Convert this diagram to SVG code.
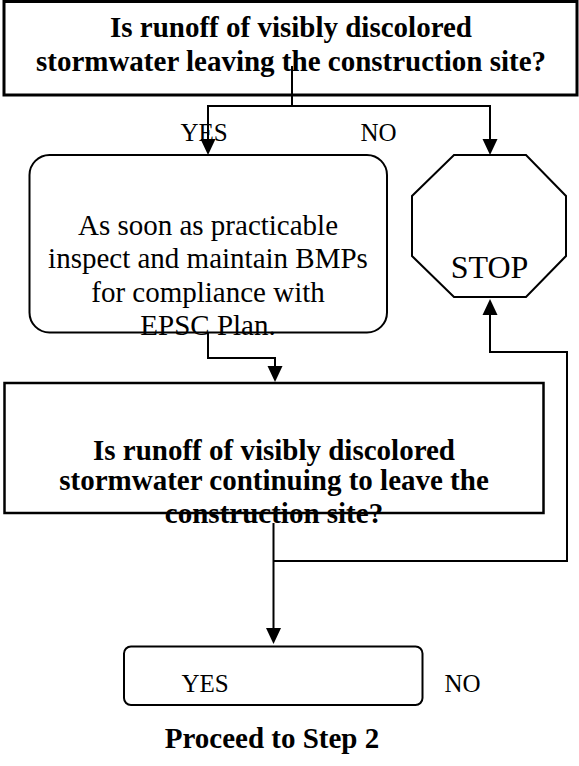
<svg xmlns="http://www.w3.org/2000/svg" width="579" height="766" viewBox="0 0 579 766">
<defs>
<style>
.bold{font-family:"Liberation Serif","Times New Roman",serif;font-weight:bold;font-size:29px;fill:#000;text-anchor:middle}
.reg{font-family:"Liberation Serif","Times New Roman",serif;font-size:29px;fill:#000;text-anchor:middle}
.lbl{font-family:"Liberation Serif","Times New Roman",serif;font-size:25px;fill:#000;text-anchor:middle}
.shape{fill:#fff;stroke:#000;stroke-width:2}
.conn{fill:none;stroke:#000;stroke-width:2}
</style>
<marker id="arr" viewBox="0 0 16 16" refX="12" refY="8" markerWidth="16" markerHeight="16" markerUnits="userSpaceOnUse" orient="auto">
<path d="M0,0.5 L16,8 L0,15.5 z" fill="#000"/>
</marker>
</defs>
<rect width="579" height="766" fill="#fff"/>
<g id="q1">
<rect class="shape" x="4" y="1.5" width="573" height="93.5" style="stroke-width:3"/>
<text class="bold" x="291" y="37">Is runoff of visibly discolored</text>
<text class="bold" x="291" y="71">stormwater leaving the construction site?</text>
</g>
<g id="yes1-label"><text class="lbl" x="204" y="141">YES</text></g>
<g id="no1-label"><text class="lbl" x="378.5" y="141">NO</text></g>
<g id="inspect">
<rect class="shape" x="29.5" y="155" width="357.5" height="177.5" rx="20" ry="20"/>
<text class="reg" x="208" y="235">As soon as practicable</text>
<text class="reg" x="208" y="268">inspect and maintain BMPs</text>
<text class="reg" x="208" y="301.5">for compliance with</text>
<text class="reg" x="208" y="335">EPSC Plan.</text>
</g>
<g id="stop">
<polygon class="shape" points="454,155 526,155 566,196 566,256 526,297 454,297 412,256 412,196"/>
<text class="reg" x="489.5" y="278" style="font-size:32px">STOP</text>
</g>
<g id="q2">
<rect class="shape" x="4.5" y="383" width="539" height="130" style="stroke-width:2.5"/>
<text class="bold" x="274" y="460">Is runoff of visibly discolored</text>
<text class="bold" x="274" y="490">stormwater continuing to leave the</text>
<text class="bold" x="274" y="523">construction site?</text>
</g>
<g id="answer2">
<rect class="shape" x="124" y="646.5" width="298.5" height="58.5" rx="7" ry="7"/>
<text class="lbl" x="205" y="692">YES</text>
</g>
<g id="no2-label"><text class="lbl" x="462.5" y="692">NO</text></g>
<g id="proceed"><text class="bold" x="272" y="748">Proceed to Step 2</text></g>
<g id="connectors">
<path class="conn" d="M292,66 V106"/>
<path class="conn" d="M292,106 H208 V151" marker-end="url(#arr)"/>
<path class="conn" d="M292,106 H490 V151" marker-end="url(#arr)"/>
<path class="conn" d="M208,333 V358 H275 V378" marker-end="url(#arr)"/>
<path class="conn" d="M273.5,523 V640" marker-end="url(#arr)"/>
<path class="conn" d="M273.5,561 H567 V352 H490 V303" marker-end="url(#arr)"/>
</g>
</svg>
